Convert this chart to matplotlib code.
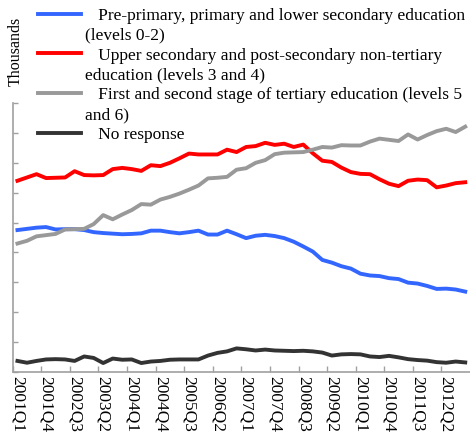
import matplotlib
matplotlib.use("Agg")
import matplotlib.pyplot as plt
from matplotlib.lines import Line2D
from matplotlib.ticker import FixedLocator, NullFormatter

plt.rcParams['font.family'] = ['Liberation Serif', 'DejaVu Serif']

# quarters 2001Q1 .. 2012Q4
quarters = [f"{y}Q{q}" for y in range(2001, 2013) for q in range(1, 5)]

# thousands (no y tick labels visible)
primary = [475, 479, 483, 485, 477, 478, 478, 475, 468, 465, 463, 461,
           462, 464, 473, 473, 468, 464, 468, 473, 460, 460, 473, 461,
           448, 456, 459, 455, 448, 436, 420, 403, 375, 366, 354, 346,
           329, 323, 321, 314, 311, 299, 296, 288, 278, 279, 276, 269]
upper_secondary = [640, 651, 662, 649, 650, 651, 672, 659, 658, 659, 679, 683,
                   679, 673, 692, 689, 700, 715, 731, 728, 728, 728, 744, 736,
                   753, 756, 767, 760, 764, 753, 761, 732, 707, 703, 684, 669,
                   663, 662, 645, 630, 622, 640, 644, 642, 618, 624, 632, 635]
tertiary = [430, 439, 454, 458, 462, 477, 478, 479, 495, 525, 511, 527,
            542, 562, 560, 577, 586, 597, 610, 624, 648, 650, 653, 677,
            682, 700, 709, 729, 734, 735, 736, 744, 753, 751, 759, 758,
            758, 771, 781, 777, 773, 795, 778, 793, 806, 814, 803, 821]
no_response = [37, 31, 37, 42, 43, 42, 37, 52, 47, 30, 45, 41,
               42, 30, 35, 37, 41, 42, 42, 42, 55, 64, 69, 79,
               76, 72, 75, 72, 71, 70, 71, 69, 65, 55, 59, 60,
               59, 52, 50, 54, 49, 43, 40, 38, 33, 31, 35, 32]

series = [
    (primary, "#3366ff",
     "   Pre-primary, primary and lower secondary education", "(levels 0-2)"),
    (upper_secondary, "#ff0000",
     "   Upper secondary and post-secondary non-tertiary", "education (levels 3 and 4)"),
    (tertiary, "#999999",
     "   First and second stage of tertiary education (levels 5", "and 6)"),
    (no_response, "#333333", "   No response", None),
]

fig = plt.figure(figsize=(4.70, 4.38), dpi=100)
ax = fig.add_axes([0.027, 0.1507, 0.973, 0.614])

x = list(range(len(quarters)))
handles, labels = [], []
blank = Line2D([], [], color='none')
for values, color, first, second in series:
    line, = ax.plot(x, values, color=color, lw=2.8, solid_joinstyle='round')
    handles.append(line)
    labels.append(first)
    if second:
        handles.append(blank)
        labels.append(second)

ax.set_xlim(-0.5, len(quarters) - 0.5)
ax.set_ylim(0, 900)

for side in ('top', 'right'):
    ax.spines[side].set_visible(False)
for side in ('left', 'bottom'):
    ax.spines[side].set_color('#a0a0a0')
    ax.spines[side].set_linewidth(1.2)

ax.set_yticks(range(0, 901, 100))
ax.yaxis.set_major_formatter(NullFormatter())
ax.tick_params(axis='y', direction='in', length=3.5, width=1.0, color='#a0a0a0')

label_pos = list(range(0, len(quarters), 3))
ax.set_xticks(label_pos)
ax.set_xticklabels([quarters[i] for i in label_pos], rotation=-90,
                   fontsize=12.5, va='top', ha='center')
ax.xaxis.set_minor_locator(FixedLocator([p - 0.5 for p in label_pos]))
ax.tick_params(axis='x', which='major', length=0, pad=3)
ax.tick_params(axis='x', which='minor', direction='in', length=4,
               width=1.0, color='#a0a0a0')

fig.text(0.034, 1 - 51 / 438, "Thousands", rotation=90, ha='center',
         va='center', fontsize=11.5)

fig.legend(handles, labels, loc='upper left', bbox_to_anchor=(0.081, 0.983),
           frameon=False, fontsize=12.5, handlelength=2.5, handletextpad=0.2,
           labelspacing=0.22, borderpad=0, borderaxespad=0)

fig.savefig("out.png", dpi=100)
